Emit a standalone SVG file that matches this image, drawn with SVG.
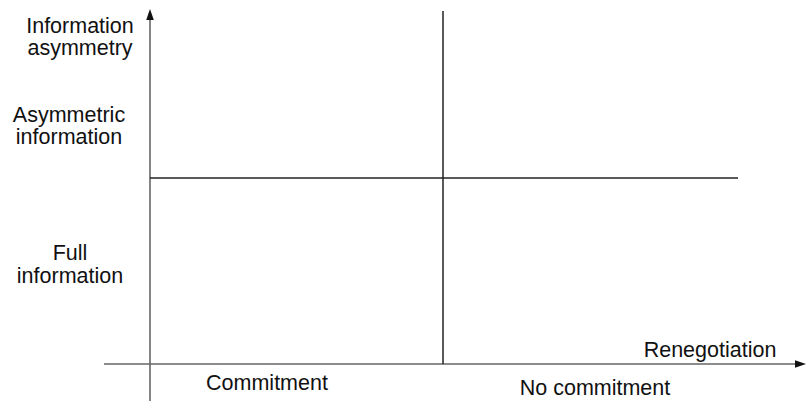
<svg xmlns="http://www.w3.org/2000/svg" width="806" height="401" viewBox="0 0 806 401">
<style>
text{font-family:"Liberation Sans",Arial,sans-serif;font-size:21.5px;fill:#111;text-anchor:middle}
.axis{stroke:#666;stroke-width:1.6;fill:none}
.grid{stroke:#222;stroke-width:1.5;fill:none}
.head{fill:#111}
</style>
<rect width="806" height="401" fill="#fff"/>
<g id="connectors">
<line class="axis" x1="150" y1="18" x2="150" y2="401"/>
<path class="head" d="M150,9 L153.8,20 L146.2,20 Z"/>
<line class="axis" x1="104" y1="364" x2="797" y2="364"/>
<path class="head" d="M806,364 L795,360.2 L795,367.8 Z"/>
<line class="grid" x1="443" y1="11" x2="443" y2="364"/>
<line class="grid" x1="150" y1="178" x2="738" y2="178"/>
</g>
<g id="y-axis-label"><text x="80" y="33">Information</text><text x="80" y="55">asymmetry</text></g>
<g id="asymmetric"><text x="69" y="122">Asymmetric</text><text x="69" y="144">information</text></g>
<g id="full"><text x="70" y="260">Full</text><text x="70" y="283">information</text></g>
<g id="x-axis-label"><text x="710" y="357">Renegotiation</text></g>
<g id="commitment"><text x="267" y="390">Commitment</text></g>
<g id="no-commitment"><text x="595" y="395">No commitment</text></g>
</svg>
